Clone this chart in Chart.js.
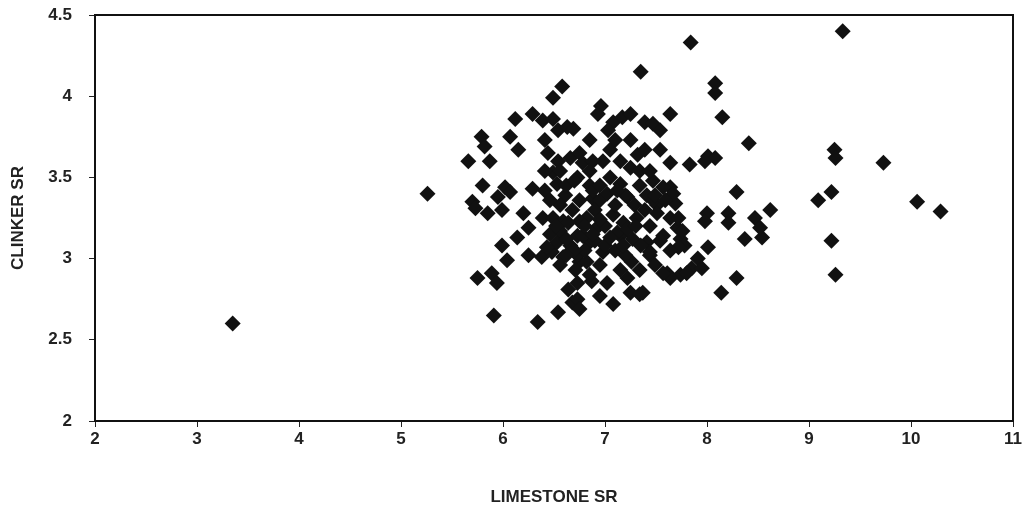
<!DOCTYPE html>
<html>
<head>
<meta charset="utf-8">
<script src="https://cdn.jsdelivr.net/npm/chart.js@4.4.1/dist/chart.umd.min.js"></script>
<style>
    html, body { margin: 0; padding: 0; background: #fff; }
    #chartBox { width: 1029px; height: 512px; }
</style>
</head>
<body>
<div id="chartBox"><canvas id="srChart" width="1029" height="512"></canvas></div>
<script>
// ===================================
// Limestone SR vs Clinker SR scatter
// ===================================

// Limestone SR (x) and clinker SR (y)
const limestoneSR = [
    3.35, 5.26,
    6.58, 6.49, 6.12, 6.29, 6.39, 6.49, 5.79, 5.82, 5.87, 5.66, 6.07, 6.15, 6.41, 6.54, 6.44, 6.54,
    5.80, 5.70, 6.02, 5.95, 6.29, 6.41, 6.63, 6.69, 6.85, 6.66, 6.75, 6.49, 6.53, 6.07,
    5.73, 5.85, 5.99, 6.20, 6.39, 6.25, 5.99, 6.14, 6.25, 6.38, 6.48, 6.04, 5.75, 5.89, 5.94,
    5.91, 6.34, 6.54, 6.64, 6.68, 6.46, 6.53, 6.43, 6.49, 6.59, 6.59, 6.75,
    6.96, 6.93, 7.08, 7.17, 7.25, 7.03, 7.39, 7.47, 7.54, 7.64, 7.64, 7.32, 7.25, 7.34, 6.78,
    6.98, 6.88, 7.05, 7.15, 6.85, 7.47, 7.64, 6.73, 6.88, 7.22, 7.41, 7.51, 6.95, 6.88,
    6.82, 6.92, 6.73, 6.85, 7.08, 7.18, 7.31, 7.15, 7.27, 7.41, 7.51, 7.64, 7.71, 7.57, 7.74,
    6.73, 6.82, 6.98, 7.26, 7.44, 7.61, 7.74, 6.73, 6.73, 6.75, 7.02, 6.95, 7.08, 7.22, 7.25,
    7.37, 6.87,
    9.33, 7.84, 7.35, 8.08, 8.08, 8.15, 8.41, 9.25, 9.26, 9.73, 8.01, 8.08, 7.98, 7.83,
    9.22, 9.09, 10.06, 10.29, 9.22, 9.26, 8.29, 8.00, 7.98, 8.21, 8.21, 8.47, 8.62, 8.54,
    8.37, 8.52, 7.78, 8.01, 7.91, 7.85, 7.95, 7.80, 8.29, 8.14, 7.64, 7.57, 7.44, 7.72, 7.34,
    7.69, 7.67, 7.57, 7.47, 7.72, 7.76,
    6.56, 6.61, 6.68, 6.75, 6.56, 6.66, 6.80, 6.90, 7.00, 7.10, 7.20, 7.29, 7.39, 7.49, 7.59,
    7.05, 7.15, 6.85, 6.95, 7.34, 7.44, 7.25, 7.10, 6.75, 6.90, 6.56, 6.46, 6.41, 6.95, 7.15,
    7.34, 7.49, 7.10, 7.20, 6.56, 6.71, 6.85, 7.44, 7.54, 7.64, 7.54, 7.39,
    6.62, 6.70, 7.00, 7.12, 6.95, 7.22, 6.62, 6.78,
    6.62, 6.70, 7.02, 7.12, 7.30, 7.35, 6.80, 6.88, 7.05, 7.18, 6.64, 6.52
];

const clinkerSR = [
    2.60, 3.40,
    4.06, 3.99, 3.86, 3.89, 3.85, 3.86, 3.75, 3.69, 3.60, 3.60, 3.75, 3.67, 3.73, 3.79, 3.65, 3.60,
    3.45, 3.35, 3.44, 3.38, 3.43, 3.42, 3.81, 3.80, 3.73, 3.62, 3.65, 3.53, 3.46, 3.41,
    3.31, 3.28, 3.30, 3.28, 3.25, 3.19, 3.08, 3.13, 3.02, 3.01, 3.04, 2.99, 2.88, 2.91, 2.85,
    2.65, 2.61, 2.67, 2.81, 2.73, 3.15, 3.10, 3.07, 3.25, 3.23, 3.01, 2.98,
    3.94, 3.89, 3.84, 3.87, 3.89, 3.79, 3.84, 3.83, 3.79, 3.89, 3.59, 3.64, 3.56, 3.54, 3.59,
    3.60, 3.60, 3.50, 3.46, 3.45, 3.48, 3.44, 3.50, 3.37, 3.38, 3.39, 3.33, 3.36, 3.42,
    3.25, 3.19, 3.14, 3.10, 3.27, 3.22, 3.25, 3.14, 3.12, 3.10, 3.28, 3.25, 3.19, 3.14, 3.12,
    3.02, 2.98, 3.04, 2.98, 3.02, 2.91, 2.90, 2.85, 2.75, 2.69, 2.85, 2.77, 2.72, 2.88, 2.79,
    2.79, 2.86,
    4.40, 4.33, 4.15, 4.08, 4.02, 3.87, 3.71, 3.67, 3.62, 3.59, 3.63, 3.62, 3.60, 3.58,
    3.41, 3.36, 3.35, 3.29, 3.11, 2.90, 3.41, 3.28, 3.23, 3.28, 3.22, 3.25, 3.30, 3.13,
    3.12, 3.19, 3.08, 3.07, 3.00, 2.94, 2.94, 2.91, 2.88, 2.79, 2.88, 2.91, 3.04, 3.07, 2.78,
    3.34, 3.40, 3.44, 3.36, 3.25, 3.17,
    3.54, 3.39, 3.30, 3.23, 3.17, 3.08, 3.05, 3.11, 3.20, 3.33, 3.39, 3.33, 3.30, 3.39, 3.36,
    3.67, 3.60, 3.54, 3.45, 3.45, 3.54, 3.73, 3.73, 3.36, 3.30, 3.33, 3.36, 3.54, 2.96, 2.93,
    2.93, 2.96, 3.05, 3.02, 2.96, 2.93, 2.90, 3.20, 3.11, 3.05, 3.67, 3.67,
    3.12, 3.05, 3.08, 3.16, 3.24, 3.18, 3.02, 3.14,
    3.45, 3.48, 3.40, 3.42, 3.20, 3.08, 3.20, 3.15, 3.13, 3.08, 3.22, 3.20
];

// Axis ranges and ticks
const xRange = [2, 11];
const xStep = 1;
const yRange = [2, 4.5];
const yStep = 0.5;

const textColor = '#222';
const axisFont = { family: 'Liberation Sans, Arial, sans-serif', size: 17, weight: 'bold' };

// Draws the box around the plot area (top and right sides)
const frameBox = {
    id: 'frameBox',
    afterDraw(chart) {
        const { ctx, chartArea } = chart;
        ctx.save();
        ctx.strokeStyle = '#111';
        ctx.lineWidth = 2;
        ctx.strokeRect(chartArea.left, chartArea.top, chartArea.right - chartArea.left, chartArea.bottom - chartArea.top);
        ctx.restore();
    }
};

document.addEventListener('DOMContentLoaded', function() {
    const points = limestoneSR.map((x, i) => ({ x: x, y: clinkerSR[i] }));

    new Chart(document.getElementById('srChart'), {
        type: 'scatter',
        data: {
            datasets: [{
                label: 'SR',
                data: points,
                pointStyle: 'rectRot',
                pointRadius: 8,
                pointHoverRadius: 8,
                backgroundColor: '#111',
                borderColor: '#111',
                borderWidth: 0
            }]
        },
        options: {
            responsive: false,
            animation: false,
            layout: {
                padding: { top: 15, right: 16, left: 0, bottom: 0 }
            },
            plugins: {
                legend: { display: false },
                tooltip: { enabled: false }
            },
            scales: {
                x: {
                    type: 'linear',
                    min: xRange[0],
                    max: xRange[1],
                    afterFit: function(scale) { scale.height = 91; },
                    ticks: {
                        stepSize: xStep,
                        color: textColor,
                        font: axisFont,
                        padding: 2
                    },
                    grid: {
                        drawOnChartArea: false,
                        tickLength: 6,
                        color: '#222'
                    },
                    border: { color: '#111', width: 2 },
                    title: {
                        display: true,
                        text: 'LIMESTONE SR',
                        color: textColor,
                        font: axisFont,
                        padding: { top: 0, bottom: 4 }
                    }
                },
                y: {
                    type: 'linear',
                    min: yRange[0],
                    max: yRange[1],
                    afterFit: function(scale) {
                        scale.width = 95;
                        scale.paddingTop = 0;
                        scale.paddingBottom = 0;
                    },
                    ticks: {
                        stepSize: yStep,
                        color: textColor,
                        font: axisFont,
                        padding: 17,
                        callback: function(value) { return String(Math.round(value * 10) / 10); }
                    },
                    grid: {
                        drawOnChartArea: false,
                        tickLength: 6,
                        color: '#222'
                    },
                    border: { color: '#111', width: 2 },
                    title: {
                        display: true,
                        text: 'CLINKER SR',
                        color: textColor,
                        font: axisFont,
                        padding: { top: 8, bottom: 0 }
                    }
                }
            }
        },
        plugins: [frameBox]
    });
});
</script>
</body>
</html>
